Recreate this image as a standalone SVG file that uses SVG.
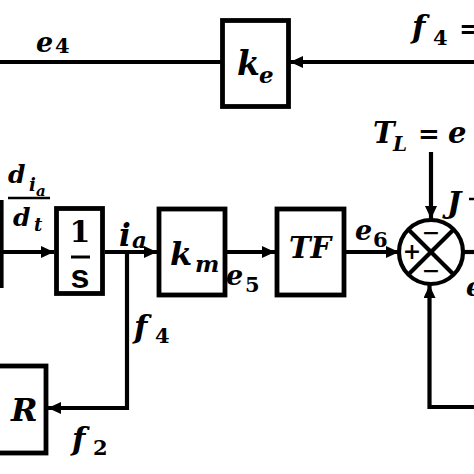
<svg xmlns="http://www.w3.org/2000/svg" width="474" height="474" viewBox="0 0 474 474">
<style>
.b{fill:none;stroke:#000;stroke-width:4.8}
.w{fill:none;stroke:#000;stroke-width:4.2}
.m{font-family:"DejaVu Serif","Liberation Serif",serif;font-weight:bold;font-style:italic;fill:#000}
.n{font-family:"DejaVu Serif","Liberation Serif",serif;font-weight:bold;fill:#000}
.s{font-family:"Liberation Sans",sans-serif;font-weight:bold;fill:#000}
</style>
<defs>
<marker id="ah" markerUnits="userSpaceOnUse" markerWidth="13" markerHeight="12" refX="13" refY="6" orient="auto">
<path d="M0,0 L13,6 L0,12 z" fill="#000"/>
</marker>
</defs>
<rect width="474" height="474" fill="#fff"/>
<g id="connectors">
<line class="w" x1="0" y1="62" x2="221" y2="62"/>
<line class="w" x1="474" y1="62" x2="290" y2="62" marker-end="url(#ah)"/>
<line class="w" x1="1.5" y1="200" x2="1.5" y2="288"/>
<line class="w" x1="3" y1="252" x2="54" y2="252" marker-end="url(#ah)"/>
<line class="w" x1="105" y1="252" x2="157" y2="252" marker-end="url(#ah)"/>
<polyline class="w" points="127,252 127,408 48,408" marker-end="url(#ah)"/>
<line class="w" x1="227" y1="252" x2="275" y2="252" marker-end="url(#ah)"/>
<line class="w" x1="346" y1="252" x2="399" y2="252" marker-end="url(#ah)"/>
<line class="w" x1="431" y1="152" x2="431" y2="219" marker-end="url(#ah)"/>
<line class="w" x1="463" y1="252" x2="474" y2="252"/>
<polyline class="w" points="474,407 429.5,407 429.5,285" marker-end="url(#ah)"/>
</g>
<g id="e4"><text class="m" x="36" y="52" font-size="27">e</text><text class="n" x="55" y="53" font-size="21">4</text></g>
<g id="f4top"><text class="m" x="412" y="38" font-size="31">f</text><text class="n" x="433" y="45" font-size="21">4</text><text class="n" x="459" y="38" font-size="26">=</text></g>
<g id="ke"><rect class="b" x="222.5" y="20.5" width="66" height="86"/><text class="m" x="237" y="75" font-size="33">k</text><text class="m" x="259" y="83" font-size="23">e</text></g>
<g id="dia_dt"><text class="m" x="8" y="183" font-size="25">d</text><text class="m" x="29" y="191" font-size="18">i</text><text class="m" x="36" y="196" font-size="15">a</text><line x1="8" y1="198" x2="50" y2="198" stroke="#000" stroke-width="2.5"/><text class="m" x="13" y="226" font-size="25">d</text><text class="m" x="34" y="231" font-size="18">t</text></g>
<g id="integrator"><rect class="b" x="56.5" y="208.5" width="46" height="85"/><text class="n" x="80" y="242" font-size="30" text-anchor="middle">1</text><line x1="71" y1="257" x2="90" y2="257" stroke="#000" stroke-width="3"/><text class="s" x="80" y="288" font-size="34" text-anchor="middle">s</text></g>
<g id="ia"><text class="m" x="119" y="246" font-size="31">i</text><text class="m" x="132" y="248" font-size="23">a</text></g>
<g id="km"><rect class="b" x="159" y="209" width="66" height="86"/><text class="m" x="170" y="265" font-size="32">k</text><text class="m" x="195" y="272" font-size="23">m</text></g>
<g id="e5"><text class="m" x="226" y="285" font-size="27">e</text><text class="n" x="245" y="292" font-size="21">5</text></g>
<g id="TF"><rect class="b" x="277" y="209" width="67" height="86"/><text class="m" x="310" y="258" font-size="29" text-anchor="middle">TF</text></g>
<g id="e6"><text class="m" x="355" y="240" font-size="27">e</text><text class="n" x="373" y="247" font-size="21">6</text></g>
<g id="TL"><text class="m" x="373" y="143" font-size="29">T</text><text class="m" x="393" y="151" font-size="20">L</text><text class="n" x="418" y="143" font-size="26">=</text><text class="m" x="448" y="143" font-size="29">e</text></g>
<g id="J"><text class="m" x="447" y="213" font-size="30">J</text><line x1="469" y1="199" x2="474" y2="199" stroke="#000" stroke-width="2.5"/></g>
<g id="sum"><circle class="w" cx="431" cy="252" r="32"/><line class="w" x1="408.4" y1="229.4" x2="453.6" y2="274.6"/><line class="w" x1="453.6" y1="229.4" x2="408.4" y2="274.6"/><text class="n" x="431" y="240" font-size="22" text-anchor="middle">−</text><text class="n" x="412" y="259" font-size="22" text-anchor="middle">+</text><text class="n" x="431" y="278" font-size="22" text-anchor="middle">−</text></g>
<g id="eout"><text class="m" x="466" y="296" font-size="26">e</text></g>
<g id="f4low"><text class="m" x="134" y="338" font-size="31">f</text><text class="n" x="155" y="343" font-size="21">4</text></g>
<g id="R"><rect class="b" x="-10" y="366" width="56" height="87"/><text class="m" x="11" y="421" font-size="32">R</text></g>
<g id="f2"><text class="m" x="72" y="450" font-size="31">f</text><text class="n" x="93" y="455" font-size="21">2</text></g>
</svg>
